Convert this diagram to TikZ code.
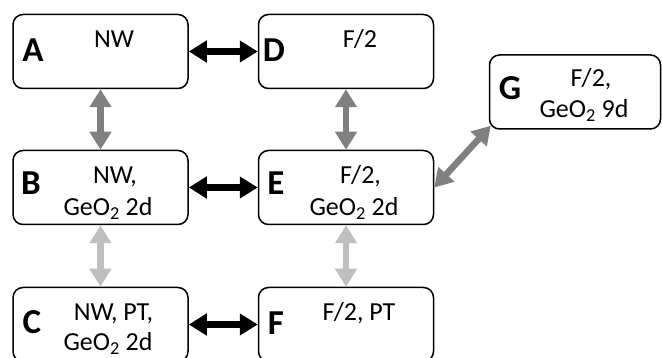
\documentclass[tikz,border=0pt]{standalone}
\usepackage{fontspec}
\setmainfont{Carlito}
\usetikzlibrary{arrows.meta}
\definecolor{midgray}{RGB}{128,128,128}
\definecolor{palegray}{RGB}{191,191,191}
\tikzset{
  box/.style={draw, line width=1.5pt, rounded corners=10pt, minimum width=175pt, minimum height=74pt, inner sep=0pt},
  lbl/.style={font=\fontsize{26}{32}\selectfont, anchor=base, inner sep=0pt},
  letter/.style={font=\fontsize{35}{40}\selectfont\bfseries, anchor=base, inner sep=0pt},
  link/.style={line width=6.5pt, >={Triangle[length=18pt,width=21pt]}, <->},
}
\begin{document}
\begin{tikzpicture}[x=1pt,y=-1pt]
\useasboundingbox (0,0) rectangle (662,358);
% boxes
\node[box] (A) at (100.5,51.5) {};
\node[box] (D) at (346,51.5) {};
\node[box] (B) at (100.5,187.5) {};
\node[box] (E) at (346,187.5) {};
\node[box] (C) at (100.5,324.5) {};
\node[box] (F) at (346,324.5) {};
\node[box, minimum width=171pt] (G) at (575,92) {};
% letters
\node[letter] (Al) at (33,62) {A};
\node[letter] (Bl) at (31,195) {B};
\node[letter] (Cl) at (32,334) {C};
\node[letter] (Dl) at (274,62) {D};
\node[letter] (El) at (276,195) {E};
\node[letter] (Fl) at (276,335) {F};
\node[letter] (Gl) at (510,100) {G};
% texts
\node[lbl] (At) at (114,48) {NW};
\node[lbl] (Dt) at (360,48) {F/2};
\node[lbl] (Bt1) at (115,184) {NW,};
\node[lbl] (Bt2) at (108,216) {GeO\textsubscript{2} 2d};
\node[lbl] (Et1) at (360.5,184) {F/2,};
\node[lbl] (Et2) at (354,216) {GeO\textsubscript{2} 2d};
\node[lbl] (Ct1) at (113.5,321) {NW, PT,};
\node[lbl] (Ct2) at (108,351) {GeO\textsubscript{2} 2d};
\node[lbl] (Ft) at (359,321) {F/2, PT};
\node[lbl] (Gt1) at (591,87) {F/2,};
\node[lbl] (Gt2) at (584,118) {GeO\textsubscript{2} 9d};
% connectors
\draw[link] (A.east) -- (D.west);
\draw[link] (B.east) -- (E.west);
\draw[link] (C.east) -- (F.west);
\draw[link, midgray] (A.south) -- (B.north);
\draw[link, midgray] (D.south) -- (E.north);
\draw[link, palegray] (B.south) -- (C.north);
\draw[link, palegray] (E.south) -- (F.north);
\draw[link, midgray] (E.east) -- ([shift={(2,-4)}]G.south west);
\end{tikzpicture}
\end{document}
